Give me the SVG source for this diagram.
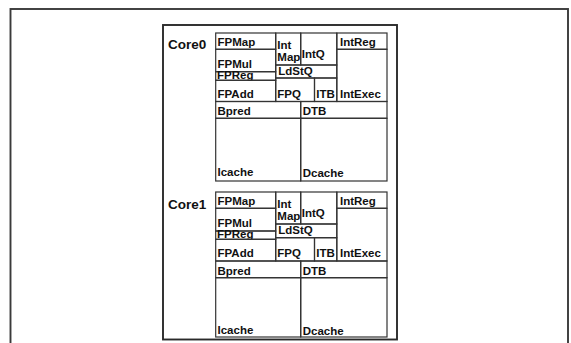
<svg xmlns="http://www.w3.org/2000/svg" width="571" height="343" viewBox="0 0 571 343">
<style>
.frame{fill:none;stroke:#2a2a2a;stroke-width:1.9}
.outer{fill:none;stroke:#3a3a3a;stroke-width:1.9}
.blk rect{fill:none;stroke:#333;stroke-width:1.2}
.lbl{font-family:"Liberation Sans",Arial,sans-serif;font-weight:bold;font-size:11.5px;fill:#111}
.core{font-family:"Liberation Sans",Arial,sans-serif;font-weight:bold;font-size:13.5px;fill:#111}
</style>
<rect width="571" height="343" fill="#fff"/>
<rect class="outer" x="10.5" y="9" width="557.5" height="360"/>
<rect class="frame" x="163" y="25" width="234" height="314.5"/>
<g id="core0">
<text class="core" x="168" y="48.5">Core0</text>
<g id="c0-fpmap" class="blk"><rect x="215.7" y="33" width="60" height="16.3"/><text class="lbl" x="217.5" y="46">FPMap</text></g>
<g id="c0-fpmul" class="blk"><rect x="215.7" y="49.3" width="60" height="22.4"/><text class="lbl" x="217.5" y="67.5">FPMul</text></g>
<g id="c0-fpreg" class="blk"><rect x="215.7" y="71.7" width="60" height="8.6"/><text class="lbl" x="217" y="79">FPReg</text></g>
<g id="c0-fpadd" class="blk"><rect x="215.7" y="80.3" width="60" height="21.2"/><text class="lbl" x="217.5" y="97.5">FPAdd</text></g>
<g id="c0-intmap" class="blk"><rect x="275.7" y="33" width="25" height="32"/><text class="lbl" x="277.3" y="49">Int</text><text class="lbl" x="277.3" y="61">Map</text></g>
<g id="c0-intq" class="blk"><rect x="300.7" y="33" width="36.1" height="32"/><text class="lbl" x="301.8" y="57.5">IntQ</text></g>
<g id="c0-ldstq" class="blk"><rect x="275.7" y="65" width="61.1" height="13"/><text class="lbl" x="278.3" y="75">LdStQ</text></g>
<g id="c0-fpq" class="blk"><rect x="275.7" y="78" width="38.8" height="23.5"/><text class="lbl" x="277.3" y="97.5">FPQ</text></g>
<g id="c0-itb" class="blk"><rect x="314.5" y="78" width="22.3" height="23.5"/><text class="lbl" x="316.3" y="97.5">ITB</text></g>
<g id="c0-intreg" class="blk"><rect x="336.8" y="33" width="50.2" height="16.3"/><text class="lbl" x="340" y="45.5">IntReg</text></g>
<g id="c0-intexec" class="blk"><rect x="336.8" y="49.3" width="50.2" height="52.2"/><text class="lbl" x="340" y="97.5">IntExec</text></g>
<g id="c0-bpred" class="blk"><rect x="215.7" y="101.5" width="85" height="16.8"/><text class="lbl" x="217.5" y="115">Bpred</text></g>
<g id="c0-dtb" class="blk"><rect x="300.7" y="101.5" width="86.3" height="16.8"/><text class="lbl" x="302.7" y="115">DTB</text></g>
<g id="c0-icache" class="blk"><rect x="215.7" y="118.3" width="85" height="62.7"/><text class="lbl" x="217.5" y="175.5">Icache</text></g>
<g id="c0-dcache" class="blk"><rect x="300.7" y="118.3" width="86.3" height="62.7"/><text class="lbl" x="302.7" y="177">Dcache</text></g>
</g>
<g id="core1">
<text class="core" x="168" y="209">Core1</text>
<g id="c1-fpmap" class="blk"><rect x="215.7" y="192" width="60" height="16.3"/><text class="lbl" x="217.5" y="205">FPMap</text></g>
<g id="c1-fpmul" class="blk"><rect x="215.7" y="208.3" width="60" height="22.7"/><text class="lbl" x="217.5" y="226.5">FPMul</text></g>
<g id="c1-fpreg" class="blk"><rect x="215.7" y="231" width="60" height="8.3"/><text class="lbl" x="217" y="238">FPReg</text></g>
<g id="c1-fpadd" class="blk"><rect x="215.7" y="239.3" width="60" height="21.7"/><text class="lbl" x="217.5" y="256.5">FPAdd</text></g>
<g id="c1-intmap" class="blk"><rect x="275.7" y="192" width="25" height="32"/><text class="lbl" x="277.3" y="208">Int</text><text class="lbl" x="277.3" y="220">Map</text></g>
<g id="c1-intq" class="blk"><rect x="300.7" y="192" width="36.1" height="32"/><text class="lbl" x="301.8" y="216.5">IntQ</text></g>
<g id="c1-ldstq" class="blk"><rect x="275.7" y="224" width="61.1" height="13.7"/><text class="lbl" x="278.3" y="234">LdStQ</text></g>
<g id="c1-fpq" class="blk"><rect x="275.7" y="237.7" width="38.8" height="23.3"/><text class="lbl" x="277.3" y="256.5">FPQ</text></g>
<g id="c1-itb" class="blk"><rect x="314.5" y="237.7" width="22.3" height="23.3"/><text class="lbl" x="316.3" y="256.5">ITB</text></g>
<g id="c1-intreg" class="blk"><rect x="336.8" y="192" width="50.2" height="16.3"/><text class="lbl" x="340" y="204.5">IntReg</text></g>
<g id="c1-intexec" class="blk"><rect x="336.8" y="208.3" width="50.2" height="52.7"/><text class="lbl" x="340" y="256.5">IntExec</text></g>
<g id="c1-bpred" class="blk"><rect x="215.7" y="261" width="85" height="16.7"/><text class="lbl" x="217.5" y="274.5">Bpred</text></g>
<g id="c1-dtb" class="blk"><rect x="300.7" y="261" width="86.3" height="16.7"/><text class="lbl" x="302.7" y="274.5">DTB</text></g>
<g id="c1-icache" class="blk"><rect x="215.7" y="277.7" width="85" height="59.3"/><text class="lbl" x="217.5" y="333.5">Icache</text></g>
<g id="c1-dcache" class="blk"><rect x="300.7" y="277.7" width="86.3" height="59.3"/><text class="lbl" x="302.7" y="334.5">Dcache</text></g>
</g>
<g id="connectors"/>
</svg>
